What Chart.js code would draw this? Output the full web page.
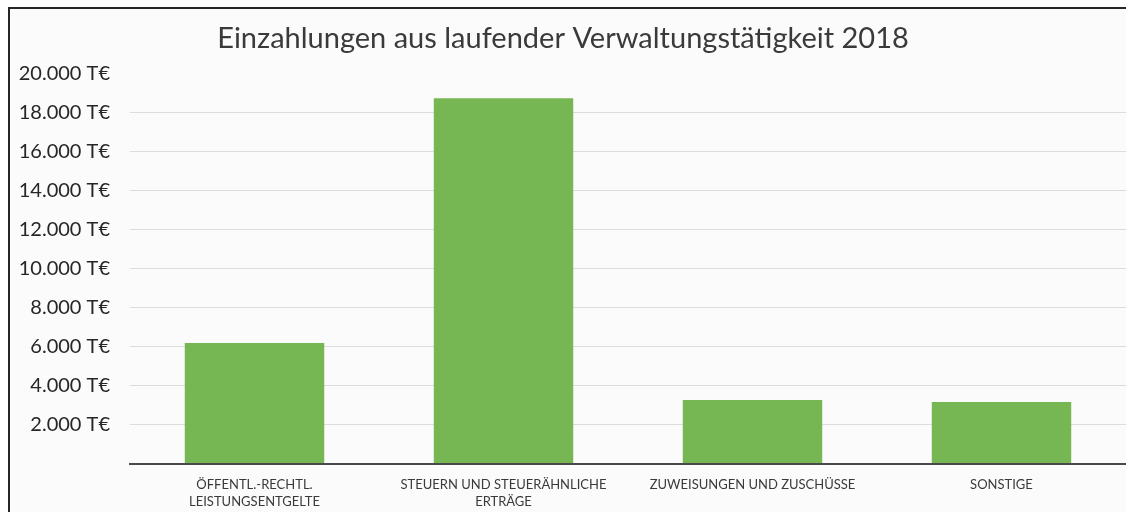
<!DOCTYPE html>
<html lang="de">
<head>
<meta charset="utf-8">
<title>Einzahlungen aus laufender Verwaltungstätigkeit 2018</title>
<script src="https://cdn.jsdelivr.net/npm/chart.js@4.4.1/dist/chart.umd.min.js"></script>
<style>
  html, body { margin: 0; padding: 0; background: #ffffff; overflow: hidden; }
  #wrap { position: relative; width: 1126px; height: 512px; overflow: hidden; }
  #frame {
    position: absolute; left: 8px; top: 7px; width: 1140px; height: 520px;
    border-top: 2px solid #262626; border-left: 2px solid #262626;
    background: #fbfbfb;
  }
  #chart { position: absolute; left: 0; top: 0; }
</style>
</head>
<body>
<div id="wrap">
  <div id="frame"></div>
  <canvas id="chart" width="1126" height="512"></canvas>
</div>
<script>
'use strict';

// Kategorien (zweizeilige Beschriftung wie im Original)
const categories = [
    ['ÖFFENTL.-RECHTL.', 'LEISTUNGSENTGELTE'],
    ['STEUERN UND STEUERÄHNLICHE', 'ERTRÄGE'],
    'ZUWEISUNGEN UND ZUSCHÜSSE',
    'SONSTIGE'
];

// Einzahlungen in T€
const values = [6180, 18740, 3260, 3150];

// Achse
const yMin = 0;
const yMax = 20000;
const yStep = 2000;

const barColor = '#76b653';
const textColor = '#3a3a3a';

function formatTick(v) {
    if (v === 0) return '';
    let s = String(v).replace(/\B(?=(\d{3})+(?!\d))/g, '.');
    return s + ' T€';
}

let config = {
    type: 'bar',
    data: {
        labels: categories,
        datasets: [{
            label: 'Einzahlungen',
            data: values,
            backgroundColor: barColor,
            borderWidth: 0,
            barPercentage: 0.56,
            categoryPercentage: 1
        }]
    },
    options: {
        responsive: false,
        animation: false,
        layout: {
            padding: { left: 0, right: 0, top: 0, bottom: 0 }
        },
        plugins: {
            legend: { display: false },
            tooltip: { enabled: false },
            title: {
                display: true,
                text: 'Einzahlungen aus laufender Verwaltungstätigkeit 2018',
                color: textColor,
                font: { family: 'Lato', size: 29, weight: 'normal', lineHeight: 1.2 },
                padding: { top: 21, bottom: 18 }
            }
        },
        scales: {
            x: {
                grid: { display: false, drawTicks: false },
                border: { display: true, color: '#4a4a4a', width: 2 },
                ticks: {
                    color: textColor,
                    padding: 13,
                    maxRotation: 0,
                    autoSkip: false,
                    font: { family: 'Lato', size: 13, lineHeight: 1.3 }
                },
                afterFit: function(scale) { scale.height = 48.5; }
            },
            y: {
                min: yMin,
                max: yMax,
                grid: {
                    drawTicks: false,
                    color: function(ctx) {
                        return ctx.tick && ctx.tick.value === yMax ? 'rgba(0,0,0,0)' : '#dcdcdc';
                    },
                    lineWidth: 1
                },
                border: { display: false },
                ticks: {
                    stepSize: yStep,
                    color: '#262626',
                    padding: 20,
                    font: { family: 'Lato', size: 20 },
                    callback: function(v) { return formatTick(v); }
                },
                afterFit: function(scale) { scale.width = 130; }
            }
        }
    }
};

let ctx = document.getElementById('chart').getContext('2d');
window.myBar = new Chart(ctx, config);
</script>
</body>
</html>
